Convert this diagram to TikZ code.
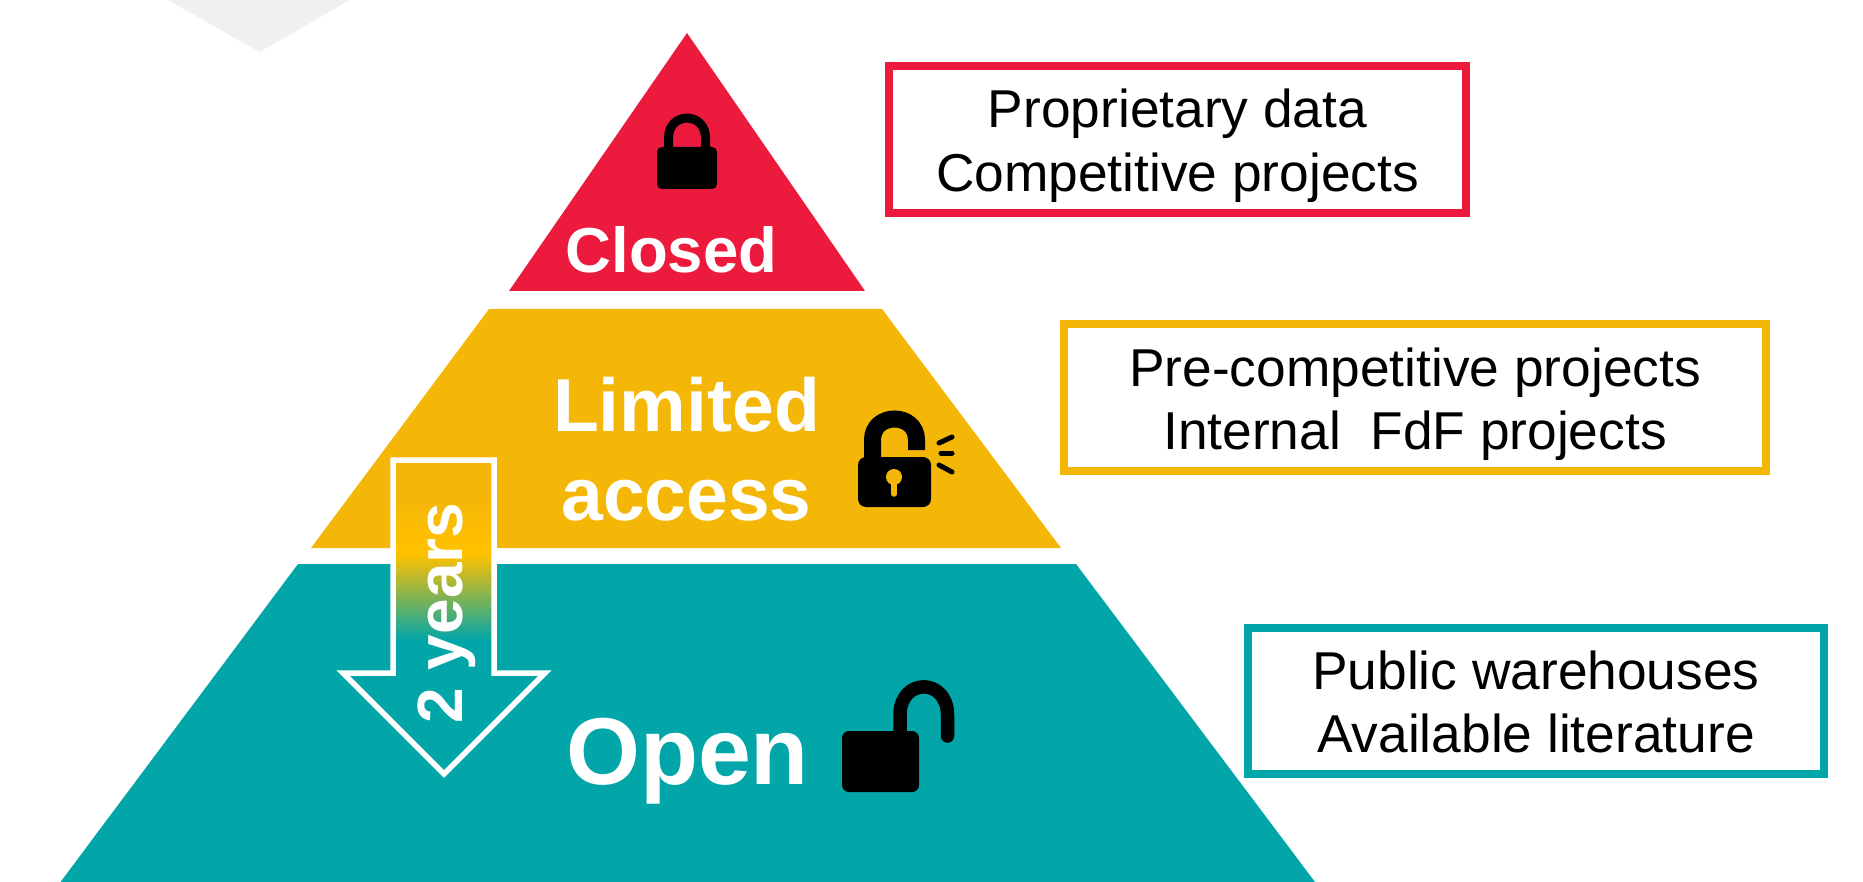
\documentclass[tikz,border=0pt]{standalone}
\usepackage{fontspec}
\setmainfont{Liberation Sans}
\definecolor{cred}{HTML}{EC1A3D}
\definecolor{cyel}{HTML}{F5B707}
\definecolor{cteal}{HTML}{02A6A8}
\definecolor{cgray}{HTML}{F0F0F0}
\definecolor{cyel2}{HTML}{FFC000}
\newcommand{\fsz}[1]{\fontsize{#1}{#1}\selectfont}
\tikzset{
  layer/.style={fill=#1,draw=none},
  tag/.style={draw=#1,line width=8pt,fill=white,inner sep=0pt,outer sep=0pt},
  tagtext/.style={text=black,align=center,inner sep=0pt,outer sep=0pt,
    font=\fontsize{53.3}{63.5}\selectfont},
  head/.style={text=white,inner sep=0pt,outer sep=0pt,anchor=base,font=\bfseries},
  lockbody/.style={fill=black,draw=none,rounded corners=5pt},
  shackle/.style={draw=black,fill=none}
}
\begin{document}
\begin{tikzpicture}[x=1pt,y=-1pt]
\useasboundingbox (0,0) rectangle (1863,882);
% grey remnant
\fill[cgray] (168,0) -- (259.5,52) -- (350,0) -- cycle;
% pyramid
\fill[layer=cred] (687,33) -- (865,291) -- (509,291) -- cycle;
\fill[layer=cyel] (489,309) -- (882,309) -- (1061,548) -- (311,548) -- cycle;
\fill[layer=cteal] (298,564) -- (1076,564) -- (1315,882) -- (60.5,882) -- cycle;
% arrow fill
\begin{scope}
\clip (393,460) -- (494,460) -- (494,673) -- (545,673) -- (444,774) -- (343,673) -- (393,673) -- cycle;
\fill[cyel] (330,455) rectangle (560,500);
\shade[top color=cyel,bottom color=cyel2] (330,499.5) rectangle (560,545);
\fill[cyel2] (330,544.5) rectangle (560,555);
\shade[top color=cyel2,bottom color=cteal] (330,554.5) rectangle (560,640);
\fill[cteal] (330,639.5) rectangle (560,780);
\end{scope}
\draw[white,line width=5.5pt,miter limit=10,line join=miter] (393,460) -- (494,460) -- (494,673) -- (545,673) -- (444,774) -- (343,673) -- (393,673) -- cycle;
\node[head,rotate=90,font=\bfseries\fsz{64}] (yrs) at (462,613) [anchor=base] {2 years};
% labels
\node[head,font=\bfseries\fsz{63.5}] (closed) at (671.5,273) {Closed};
\node[head,font=\bfseries\fsz{75}] (limited) at (686.5,431) {Limited};
\node[head,font=\bfseries\fsz{75}] (access) at (686.5,520) {access};
\node[head,font=\bfseries\fsz{95}] (open) at (687.5,784) {Open};
% tags
\node[tag=cred,minimum width=577pt,minimum height=147pt] (t1) at (1177.5,139.5) {};
\node[tagtext,yshift=-6pt] (t1text) at (t1.center) {Proprietary data\\Competitive projects};
\node[tag=cyel,minimum width=702pt,minimum height=147pt] (t2) at (1415,397.5) {};
\node[tagtext,yshift=-6.5pt] (t2text) at (t2.center) {Pre-competitive projects\\Internal\ \ FdF projects};
\node[tag=cteal,minimum width=576pt,minimum height=146pt] (t3) at (1536,701) {};
\node[tagtext,yshift=-1pt] (t3text) at (t3.center) {Public warehouses\\Available literature};
% closed lock
\draw[shackle,line width=9pt] (668.5,152) -- (668.5,138) .. controls (668.5,111.5) and (705.5,111.5) .. (705.5,138) -- (705.5,152);
\fill[lockbody] (657,147) rectangle (717,189);
% limited lock
\draw[shackle,line width=17pt] (872.5,462) -- (872.5,440) .. controls (872.5,412) and (916.5,412) .. (916.5,440) -- (916.5,450);
\fill[lockbody,rounded corners=8pt] (858,457) rectangle (931,507);
\fill[cyel] (894,477) circle (8pt);
\draw[cyel,line width=5.5pt,line cap=round] (894,478) -- (894,494);
\draw[black,line width=5pt,line cap=round] (939,443) -- (952,437);
\draw[black,line width=5pt,line cap=round] (941,453) -- (952,453);
\draw[black,line width=5pt,line cap=round] (939,465) -- (952,472);
% open lock
\draw[shackle,line width=13.5pt,line cap=round] (900,735) -- (900,715) .. controls (900,677.5) and (947.5,677.5) .. (947.5,715) -- (947.5,736);
\fill[lockbody,rounded corners=7pt] (842,731) rectangle (919,792);
\end{tikzpicture}
\end{document}
